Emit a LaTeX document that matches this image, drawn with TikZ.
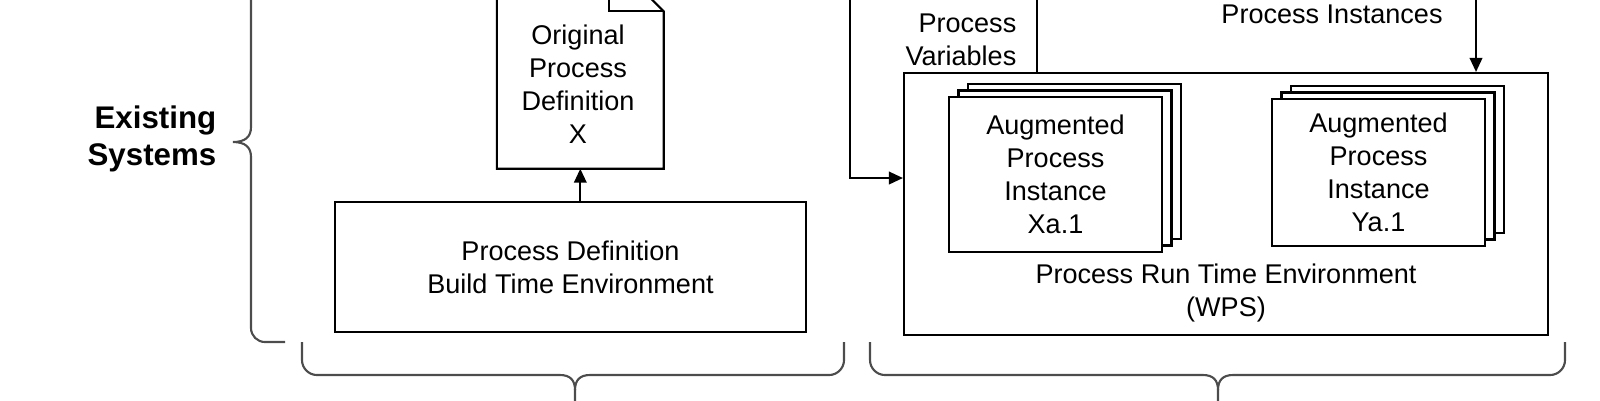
\documentclass[tikz,border=0pt]{standalone}
\usepackage{fontspec}
\setmainfont{Liberation Sans}
\usetikzlibrary{arrows.meta,positioning,calc,shadows}

\begin{document}
\begin{tikzpicture}[font=\fontsize{7.7}{9.4}\selectfont,
  box/.style={draw,line width=0.6pt,inner sep=0pt,align=center},
  pile/.style={box,fill=white,double copy shadow={shadow xshift=0.095cm,shadow yshift=0.065cm,line width=0.6pt}},
  lbl/.style={inner sep=0pt,align=center},
  flow/.style={line width=0.6pt,-{Triangle[length=1.4mm,width=1.25mm]}},
  curly/.style={line width=0.6pt,gray!60!black}]
\useasboundingbox (0,0) rectangle (16,-4);
\clip (0,0) rectangle (16,-4);
% left side: build time
\node[anchor=east,lbl,align=right,font=\bfseries\fontsize{8.9}{10.5}\selectfont] (existing) at (2.17,-1.385) {Existing\\Systems};
\node[box,minimum width=4.71cm,minimum height=1.30cm] (build) at (5.705,-2.67) {Process Definition\\Build Time Environment};
\node[inner sep=0pt,minimum width=1.655cm,minimum height=2.11cm] (doc) at (5.803,-0.625) {};
\draw[line width=0.6pt] (doc.south west) -- (doc.north west) -- ($(doc.north east)+(-0.55,0)$) -- ($(doc.north east)+(0,-0.55)$) -- (doc.south east) -- cycle;
\draw[line width=0.6pt] ($(doc.north east)+(-0.55,0)$) |- ($(doc.north east)+(0,-0.55)$);
\node[lbl] (doctext) at (5.78,-0.845) {Original\\Process\\Definition\\X};
\draw[flow] (build.north -| doc.south) -- (doc.south);
% right side: run time
\node[box,minimum width=6.44cm,minimum height=2.62cm] (rte) at (12.26,-2.04) {};
\node[lbl] (rtelabel) at (12.26,-2.925) {Process Run Time Environment\\(WPS)};
\node[pile,minimum width=2.13cm,minimum height=1.55cm] (xa) at (10.555,-1.745) {Augmented\\Process\\Instance\\Xa.1};
\node[pile,minimum width=2.13cm,minimum height=1.47cm] (ya) at (13.785,-1.725) {Augmented\\Process\\Instance\\Ya.1};
\coordinate (vartop) at (8.50,0.1);
\draw[flow] (vartop) |- ($(rte.west)+(0,0.26)$);
\coordinate (varout) at (10.37,0.1);
\draw[line width=0.6pt] (rte.north -| varout) -- (varout);
\node[lbl,anchor=east,align=right] (varlabel) at (10.17,-0.395) {Process\\Variables};
\coordinate (insttop) at (14.76,0.1);
\draw[flow] (insttop) -- (rte.north -| insttop);
\node[lbl] (instlabel) at (13.32,-0.14) {Process Instances};
% braces
\draw[curly] (2.51,0.1) -- (2.51,-1.27) .. controls (2.51,-1.37) and (2.45,-1.42) .. (2.33,-1.42) .. controls (2.45,-1.42) and (2.51,-1.47) .. (2.51,-1.57) -- (2.51,-3.28) arc[start angle=180,end angle=270,radius=0.14] -- (2.85,-3.42);
\draw[curly] (3.02,-3.42) -- (3.02,-3.60) arc[start angle=180,end angle=270,radius=0.15] -- (5.60,-3.75) .. controls (5.70,-3.75) and (5.75,-3.80) .. (5.75,-3.90) -- (5.75,-4.1);
\draw[curly] (5.75,-3.90) .. controls (5.75,-3.80) and (5.80,-3.75) .. (5.90,-3.75) -- (8.29,-3.75) arc[start angle=270,end angle=360,radius=0.15] -- (8.44,-3.42);
\draw[curly] (8.70,-3.42) -- (8.70,-3.60) arc[start angle=180,end angle=270,radius=0.15] -- (12.03,-3.75) .. controls (12.13,-3.75) and (12.18,-3.80) .. (12.18,-3.90) -- (12.18,-4.1);
\draw[curly] (12.18,-3.90) .. controls (12.18,-3.80) and (12.23,-3.75) .. (12.33,-3.75) -- (15.50,-3.75) arc[start angle=270,end angle=360,radius=0.15] -- (15.65,-3.42);
\end{tikzpicture}
\end{document}
